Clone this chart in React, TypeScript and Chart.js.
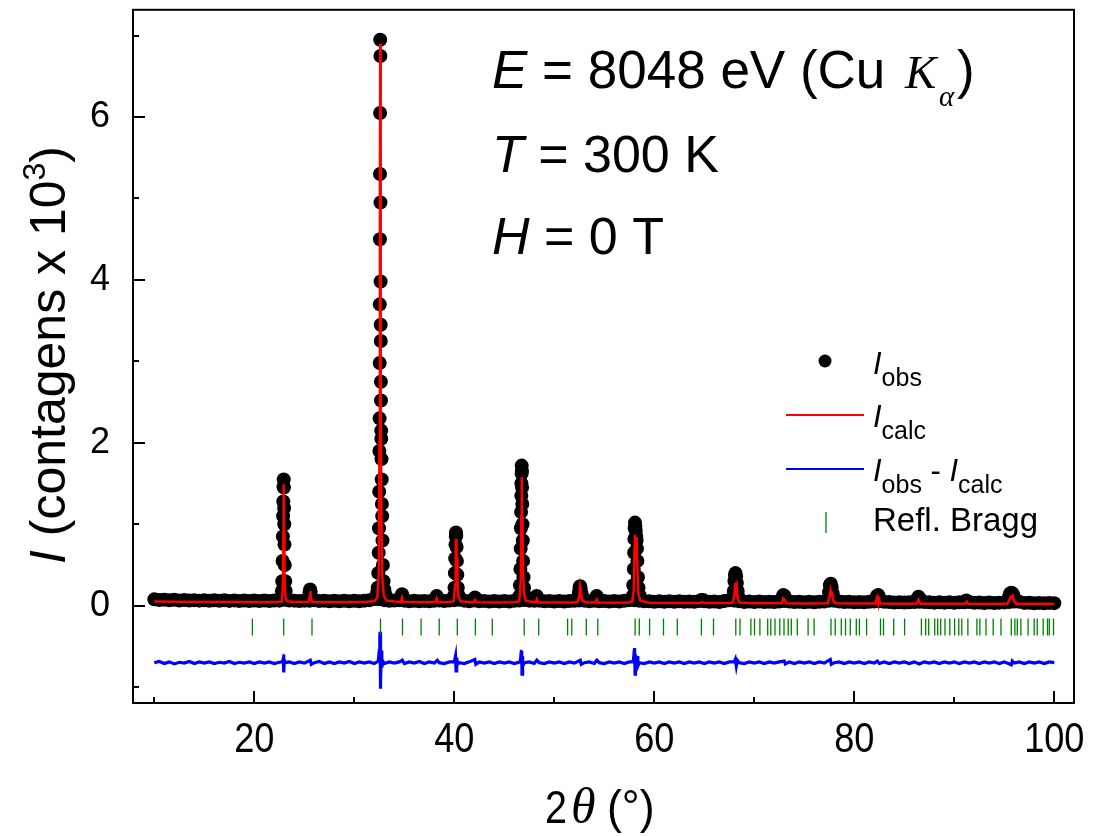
import React, { useEffect, useRef } from "react";
import { Chart, registerables } from "chart.js";

Chart.register(...registerables);

const SANS = '"Liberation Sans", Arial, sans-serif';
const SERIF = '"Liberation Serif", "Times New Roman", serif';

// axis ranges and ticks
const X_MIN = 7.87;
const X_MAX = 101.97;
const Y_MIN = -1.195;
const Y_MAX = 7.317;
const X_TICKS = [20, 40, 60, 80, 100];
const X_MINOR = [10, 30, 50, 70, 90];
const Y_TICKS = [0, 2, 4, 6];
const Y_MINOR = [-1, 1, 3, 5, 7];

// observed intensity: background points
const OBS_BG_X = [
  10, 10.5, 11, 11.5, 12, 12.5, 13, 13.5, 14, 14.5,
  15, 15.5, 16, 16.5, 17, 17.5, 18, 18.5, 19, 19.5,
  20, 20.5, 21, 21.5, 22, 22.5, 23, 23.5, 24, 24.5,
  25, 25.5, 26, 26.5, 27, 27.5, 28, 28.5, 29, 29.5,
  30, 30.5, 31, 31.5, 32, 32.5, 33, 33.5, 34, 34.5,
  35, 35.5, 36, 36.5, 37, 37.5, 38, 38.5, 39, 39.5,
  40, 40.5, 41, 41.5, 42, 42.5, 43, 43.5, 44, 44.5,
  45, 45.5, 46, 46.5, 47, 47.5, 48, 48.5, 49, 49.5,
  50, 50.5, 51, 51.5, 52, 52.5, 53, 53.5, 54, 54.5,
  55, 55.5, 56, 56.5, 57, 57.5, 58, 58.5, 59, 59.5,
  60, 60.5, 61, 61.5, 62, 62.5, 63, 63.5, 64, 64.5,
  65, 65.5, 66, 66.5, 67, 67.5, 68, 68.5, 69, 69.5,
  70, 70.5, 71, 71.5, 72, 72.5, 73, 73.5, 74, 74.5,
  75, 75.5, 76, 76.5, 77, 77.5, 78, 78.5, 79, 79.5,
  80, 80.5, 81, 81.5, 82, 82.5, 83, 83.5, 84, 84.5,
  85, 85.5, 86, 86.5, 87, 87.5, 88, 88.5, 89, 89.5,
  90, 90.5, 91, 91.5, 92, 92.5, 93, 93.5, 94, 94.5,
  95, 95.5, 96, 96.5, 97, 97.5, 98, 98.5, 99, 99.5,
  100,
];
const OBS_BG_Y = [
  0.078, 0.070, 0.074, 0.066, 0.072, 0.064, 0.070, 0.063, 0.068, 0.062,
  0.067, 0.061, 0.066, 0.060, 0.066, 0.059, 0.065, 0.058, 0.064, 0.058,
  0.064, 0.057, 0.063, 0.056, 0.064, 0.062, 0.072, 0.064, 0.062, 0.056,
  0.062, 0.060, 0.066, 0.058, 0.062, 0.055, 0.061, 0.054, 0.060, 0.055,
  0.060, 0.054, 0.062, 0.066, 0.082, 0.078, 0.068, 0.060, 0.063, 0.066,
  0.062, 0.054, 0.060, 0.053, 0.059, 0.053, 0.060, 0.064, 0.057, 0.063,
  0.068, 0.072, 0.062, 0.054, 0.064, 0.055, 0.059, 0.052, 0.058, 0.052,
  0.058, 0.052, 0.060, 0.064, 0.070, 0.062, 0.060, 0.062, 0.054, 0.057,
  0.051, 0.057, 0.051, 0.058, 0.060, 0.064, 0.062, 0.054, 0.060, 0.053,
  0.056, 0.050, 0.056, 0.052, 0.060, 0.068, 0.067, 0.060, 0.053, 0.055,
  0.049, 0.054, 0.049, 0.053, 0.048, 0.053, 0.047, 0.052, 0.049, 0.057,
  0.054, 0.047, 0.051, 0.046, 0.057, 0.067, 0.062, 0.054, 0.046, 0.050,
  0.044, 0.050, 0.044, 0.048, 0.045, 0.052, 0.057, 0.052, 0.044, 0.048,
  0.042, 0.048, 0.042, 0.049, 0.052, 0.062, 0.060, 0.052, 0.044, 0.047,
  0.041, 0.045, 0.041, 0.047, 0.050, 0.054, 0.048, 0.045, 0.039, 0.043,
  0.039, 0.043, 0.044, 0.048, 0.046, 0.043, 0.037, 0.041, 0.037, 0.041,
  0.035, 0.041, 0.042, 0.044, 0.036, 0.039, 0.033, 0.039, 0.033, 0.037,
  0.038, 0.044, 0.052, 0.047, 0.034, 0.036, 0.030, 0.034, 0.030, 0.034,
  0.031,
];

// observed intensity: points on the reflections [2theta, I]
const OBS_PEAKS: [number, number][] = [
  [22.70, 0.10], [22.76, 0.18], [22.80, 0.30], [22.83, 0.55], [22.86, 0.85], [22.88, 1.10],
  [22.90, 1.28], [22.92, 1.46], [22.94, 1.55], [22.96, 1.45], [22.98, 1.20], [23.00, 1.00],
  [23.02, 0.75], [23.05, 0.50], [23.09, 0.30], [23.14, 0.18], [23.22, 0.10],
  [25.45, 0.10], [25.52, 0.16], [25.58, 0.20], [25.64, 0.17], [25.72, 0.10],
  [32.20, 0.12], [32.28, 0.16], [32.34, 0.22], [32.40, 0.40], [32.44, 0.65], [32.47, 0.95],
  [32.49, 1.40], [32.51, 1.90], [32.53, 2.30], [32.54, 2.98], [32.55, 3.70], [32.56, 4.50],
  [32.57, 5.30], [32.58, 6.05], [32.59, 6.95], [32.61, 6.75], [32.62, 4.95], [32.63, 3.98],
  [32.64, 3.45], [32.65, 3.25], [32.66, 2.75], [32.67, 2.52], [32.69, 2.15], [32.70, 2.05],
  [32.72, 1.80], [32.74, 1.55], [32.76, 1.25], [32.79, 1.10], [32.82, 0.80], [32.86, 0.50],
  [32.92, 0.30], [33.00, 0.20], [33.10, 0.14], [33.22, 0.10],
  [34.66, 0.10], [34.77, 0.14], [34.88, 0.10],
  [38.12, 0.09], [38.24, 0.12], [38.36, 0.09],
  [39.96, 0.12], [40.02, 0.22], [40.06, 0.40], [40.09, 0.58], [40.12, 0.75], [40.15, 0.85],
  [40.17, 0.90], [40.20, 0.86], [40.23, 0.72], [40.26, 0.55], [40.30, 0.38], [40.35, 0.22],
  [40.42, 0.13],
  [41.95, 0.08], [42.07, 0.10], [42.18, 0.08],
  [46.52, 0.12], [46.57, 0.25], [46.61, 0.45], [46.64, 0.70], [46.66, 0.95], [46.68, 1.15],
  [46.70, 1.35], [46.71, 1.50], [46.73, 1.62], [46.74, 1.72], [46.76, 1.65], [46.78, 1.45],
  [46.80, 1.25], [46.82, 1.00], [46.85, 0.80], [46.88, 0.55], [46.92, 0.35], [46.97, 0.22],
  [47.05, 0.13],
  [48.12, 0.09], [48.24, 0.12], [48.36, 0.09],
  [52.36, 0.10], [52.45, 0.16], [52.52, 0.22], [52.58, 0.24], [52.64, 0.21], [52.72, 0.15],
  [52.82, 0.10],
  [54.12, 0.09], [54.24, 0.12], [54.36, 0.09],
  [57.84, 0.12], [57.90, 0.25], [57.95, 0.45], [57.98, 0.65], [58.01, 0.82], [58.04, 0.95],
  [58.07, 1.02], [58.11, 0.98], [58.15, 0.92], [58.19, 0.85], [58.23, 0.80], [58.27, 0.70],
  [58.31, 0.55], [58.36, 0.35], [58.42, 0.22], [58.52, 0.13],
  [64.72, 0.07], [64.88, 0.07],
  [67.86, 0.10], [67.95, 0.18], [68.02, 0.30], [68.07, 0.37], [68.12, 0.40], [68.18, 0.36],
  [68.26, 0.28], [68.34, 0.18], [68.45, 0.10],
  [72.78, 0.09], [72.90, 0.13], [73.02, 0.12], [73.14, 0.08],
  [77.36, 0.09], [77.47, 0.17], [77.56, 0.25], [77.65, 0.27], [77.74, 0.23], [77.84, 0.15],
  [77.95, 0.09],
  [82.12, 0.08], [82.26, 0.12], [82.40, 0.13], [82.54, 0.08],
  [86.28, 0.08], [86.42, 0.11], [86.58, 0.08],
  [91.20, 0.065],
  [95.35, 0.07], [95.47, 0.11], [95.58, 0.15], [95.70, 0.16], [95.82, 0.15], [95.94, 0.12],
  [96.06, 0.07],
];

// calculated profile [2theta, I]
const CALC: [number, number][] = [
  [10, 0.05], [12, 0.048], [14, 0.046], [16, 0.045], [18, 0.044], [20, 0.043], [22, 0.043],
  [22.75, 0.05], [22.86, 0.25], [22.90, 0.9], [22.935, 1.49], [22.97, 0.9], [23.02, 0.35],
  [23.1, 0.12], [23.25, 0.055], [24, 0.045], [25.45, 0.045], [25.57, 0.12], [25.61, 0.18],
  [25.66, 0.10], [25.8, 0.045], [27, 0.042], [29, 0.042], [31, 0.045], [32.0, 0.055],
  [32.3, 0.1], [32.45, 0.4], [32.52, 2.0], [32.56, 5.0], [32.59, 6.9], [32.62, 5.0],
  [32.66, 2.5], [32.72, 1.0], [32.8, 0.35], [32.95, 0.12], [33.2, 0.065], [34, 0.05],
  [34.65, 0.045], [34.77, 0.10], [34.9, 0.045], [36, 0.042], [38.1, 0.042], [38.24, 0.09],
  [38.38, 0.042], [39.5, 0.045], [39.95, 0.055], [40.08, 0.25], [40.14, 0.7], [40.17, 0.82],
  [40.2, 0.6], [40.25, 0.55], [40.28, 0.6], [40.32, 0.3], [40.4, 0.12], [40.6, 0.055],
  [41.5, 0.042], [41.95, 0.042], [42.07, 0.07], [42.2, 0.042], [44, 0.04], [46.0, 0.042],
  [46.5, 0.055], [46.64, 0.3], [46.7, 1.1], [46.745, 1.58], [46.78, 1.1], [46.82, 0.9],
  [46.84, 0.95], [46.88, 0.45], [46.97, 0.15], [47.15, 0.06], [48.1, 0.04], [48.24, 0.08],
  [48.38, 0.04], [50, 0.038], [52.0, 0.04], [52.35, 0.05], [52.5, 0.12], [52.58, 0.23],
  [52.66, 0.16], [52.8, 0.06], [53.2, 0.04], [54.1, 0.038], [54.24, 0.075], [54.4, 0.038],
  [56, 0.036], [57.5, 0.04], [57.8, 0.055], [57.95, 0.2], [58.02, 0.7], [58.06, 0.87],
  [58.12, 0.55], [58.18, 0.6], [58.24, 0.84], [58.3, 0.5], [58.4, 0.15], [58.6, 0.06],
  [59.5, 0.036], [62, 0.034], [64.65, 0.033], [64.8, 0.045], [64.95, 0.033], [67.5, 0.032],
  [67.85, 0.04], [68.0, 0.12], [68.1, 0.28], [68.16, 0.2], [68.24, 0.24], [68.32, 0.1],
  [68.5, 0.04], [70, 0.03], [72.75, 0.03], [72.9, 0.09], [73.05, 0.07], [73.2, 0.03],
  [75, 0.028], [77.35, 0.03], [77.55, 0.12], [77.63, 0.19], [77.72, 0.14], [77.8, 0.15],
  [77.9, 0.06], [78.1, 0.03], [80, 0.027], [82.1, 0.027], [82.28, 0.1], [82.35, 0.06],
  [82.45, 0.09], [82.6, 0.027], [84, 0.025], [86.25, 0.025], [86.42, 0.07], [86.6, 0.025],
  [89, 0.023], [91.1, 0.023], [91.25, 0.05], [91.4, 0.023], [93, 0.022], [95.3, 0.022],
  [95.5, 0.07], [95.65, 0.11], [95.75, 0.10], [95.85, 0.12], [96.0, 0.05], [96.2, 0.022],
  [98, 0.02], [100, 0.02],
];

// difference curve (offset) [2theta, I]
const DIFF: [number, number][] = [
  [10, -0.70], [10.5, -0.685], [11, -0.71], [11.5, -0.69], [12, -0.715], [12.5, -0.695],
  [13, -0.705], [13.5, -0.685], [14, -0.71], [14.5, -0.69], [15, -0.705], [15.5, -0.69],
  [16, -0.71], [16.5, -0.695], [17, -0.705], [17.5, -0.685], [18, -0.71], [18.5, -0.695],
  [19, -0.705], [19.5, -0.69], [20, -0.71], [20.5, -0.69], [21, -0.705], [21.5, -0.69],
  [22, -0.71], [22.5, -0.695], [22.85, -0.69], [22.9, -0.64], [22.93, -0.60], [22.96, -0.82],
  [23.0, -0.67], [23.1, -0.70], [23.5, -0.69], [24, -0.71], [24.5, -0.69], [25, -0.705],
  [25.6, -0.67], [25.7, -0.72], [26, -0.70], [26.5, -0.685], [27, -0.71], [27.5, -0.69],
  [28, -0.71], [28.5, -0.69], [29, -0.705], [29.5, -0.685], [30, -0.71], [30.5, -0.69],
  [31, -0.705], [31.5, -0.69], [32, -0.71], [32.4, -0.68], [32.5, -0.55], [32.55, -0.38],
  [32.58, -0.32], [32.6, -0.65], [32.62, -1.02], [32.65, -0.92], [32.7, -0.55], [32.75, -0.76],
  [32.85, -0.68], [33, -0.71], [33.5, -0.69], [34, -0.705], [34.5, -0.69], [34.8, -0.67],
  [35, -0.71], [35.5, -0.69], [36, -0.705], [36.5, -0.685], [37, -0.71], [37.5, -0.69],
  [38, -0.705], [38.3, -0.67], [38.5, -0.70], [39, -0.71], [39.5, -0.69], [40, -0.69],
  [40.12, -0.62], [40.18, -0.80], [40.24, -0.64], [40.32, -0.72], [40.5, -0.70], [41, -0.71],
  [41.5, -0.69], [42.05, -0.66], [42.15, -0.72], [42.5, -0.69], [43, -0.705], [43.5, -0.69],
  [44, -0.71], [44.5, -0.69], [45, -0.705], [45.5, -0.69], [46, -0.71], [46.6, -0.69],
  [46.7, -0.56], [46.74, -0.55], [46.77, -0.84], [46.81, -0.62], [46.86, -0.74], [47, -0.70],
  [47.5, -0.69], [48, -0.71], [48.25, -0.67], [48.5, -0.70], [49, -0.71], [49.5, -0.69],
  [50, -0.705], [50.5, -0.69], [51, -0.71], [51.5, -0.69], [52, -0.705], [52.6, -0.67],
  [52.7, -0.72], [53, -0.70], [53.5, -0.69], [54, -0.71], [54.25, -0.67], [54.5, -0.70],
  [55, -0.71], [55.5, -0.69], [56, -0.705], [56.5, -0.69], [57, -0.71], [57.5, -0.69],
  [57.9, -0.69], [58.0, -0.55], [58.03, -0.52], [58.08, -0.84], [58.12, -0.60], [58.2, -0.78],
  [58.28, -0.62], [58.36, -0.74], [58.5, -0.70], [59, -0.71], [59.5, -0.69], [60, -0.705],
  [60.5, -0.69], [61, -0.71], [61.5, -0.69], [62, -0.705], [62.5, -0.69], [63, -0.71],
  [63.5, -0.69], [64, -0.705], [64.5, -0.69], [65, -0.71], [65.5, -0.69], [66, -0.705],
  [66.5, -0.69], [67, -0.71], [67.5, -0.69], [68.0, -0.69], [68.1, -0.66], [68.2, -0.74],
  [68.3, -0.67], [68.5, -0.70], [69, -0.71], [69.5, -0.69], [70, -0.705], [70.5, -0.69],
  [71, -0.71], [71.5, -0.69], [72, -0.705], [72.5, -0.69], [73, -0.68], [73.1, -0.715],
  [73.5, -0.69], [74, -0.71], [74.5, -0.69], [75, -0.705], [75.5, -0.69], [76, -0.71],
  [76.5, -0.69], [77, -0.705], [77.6, -0.66], [77.7, -0.72], [78, -0.70], [78.5, -0.69],
  [79, -0.71], [79.5, -0.69], [80, -0.705], [80.5, -0.69], [81, -0.71], [81.5, -0.69],
  [82, -0.705], [82.3, -0.68], [82.5, -0.71], [83, -0.69], [83.5, -0.71], [84, -0.69],
  [84.5, -0.705], [85, -0.69], [85.5, -0.71], [86, -0.69], [86.5, -0.715], [87, -0.69],
  [87.5, -0.705], [88, -0.69], [88.5, -0.71], [89, -0.69], [89.5, -0.705], [90, -0.69],
  [90.5, -0.71], [91, -0.69], [91.5, -0.705], [92, -0.69], [92.5, -0.71], [93, -0.69],
  [93.5, -0.705], [94, -0.69], [94.5, -0.71], [95, -0.69], [95.7, -0.725], [95.8, -0.68],
  [96, -0.705], [96.5, -0.69], [97, -0.71], [97.5, -0.69], [98, -0.705], [98.5, -0.69],
  [99, -0.71], [99.5, -0.69], [100, -0.70],
];

// Bragg reflection positions (2theta) and the level they are drawn at
const BRAGG_LEVEL = -0.262;
const BRAGG_POS = [
  19.81, 22.94, 25.77, 32.62, 34.82, 36.68, 38.49, 40.30, 42.11, 43.80,
  46.99, 48.44, 51.33, 51.75, 53.20, 54.35, 58.08, 58.50, 59.53, 60.92,
  62.30, 64.71, 65.92, 68.15, 68.57, 69.66, 70.02, 70.56, 71.34, 71.65,
  72.07, 72.55, 72.97, 73.39, 73.70, 74.30, 75.38, 75.98, 77.67, 78.09,
  78.70, 79.12, 79.60, 80.20, 80.51, 81.23, 82.62, 82.92, 83.94, 85.03,
  86.71, 87.14, 87.44, 88.04, 88.34, 88.64, 89.07, 89.55, 90.03, 90.45,
  90.75, 91.36, 92.26, 92.56, 93.17, 93.89, 94.67, 95.70, 96.06, 96.30,
  96.66, 97.38, 97.99, 98.29, 98.89, 99.32, 99.50, 99.92,
];

type Part = { t: string; font: string; dy?: number; x?: number; sx?: number };

function drawParts(ctx: CanvasRenderingContext2D, x: number, y: number, parts: Part[], align: "left" | "center") {
  let w = 0;
  for (const p of parts) {
    ctx.font = p.font;
    w += ctx.measureText(p.t).width * (p.sx || 1);
  }
  let cx = align === "center" ? x - w / 2 : x;
  for (const p of parts) {
    ctx.font = p.font;
    if (p.x !== undefined) cx = p.x;
    const sx = p.sx || 1;
    ctx.save();
    ctx.translate(cx, y + (p.dy || 0));
    ctx.scale(sx, 1);
    ctx.fillText(p.t, 0, 0);
    ctx.restore();
    cx += ctx.measureText(p.t).width * sx;
  }
}

const decorPlugin = {
  id: "decor",
  afterDraw(chart: any) {
    const { ctx, chartArea: a, scales } = chart;
    const xs = scales.x;
    const ys = scales.y;
    ctx.save();
    ctx.strokeStyle = "#000";
    ctx.lineWidth = 2;
    ctx.strokeRect(a.left, a.top, a.right - a.left, a.bottom - a.top);
    ctx.beginPath();
    for (const v of X_TICKS) {
      const p = Math.round(xs.getPixelForValue(v));
      ctx.moveTo(p, a.bottom);
      ctx.lineTo(p, a.bottom - 12);
    }
    for (const v of X_MINOR) {
      const p = Math.round(xs.getPixelForValue(v));
      ctx.moveTo(p, a.bottom);
      ctx.lineTo(p, a.bottom - 6);
    }
    for (const v of Y_TICKS) {
      const p = Math.round(ys.getPixelForValue(v));
      ctx.moveTo(a.left, p);
      ctx.lineTo(a.left + 12, p);
    }
    for (const v of Y_MINOR) {
      const p = Math.round(ys.getPixelForValue(v));
      ctx.moveTo(a.left, p);
      ctx.lineTo(a.left + 6, p);
    }
    ctx.stroke();

    ctx.fillStyle = "#000";
    ctx.textBaseline = "alphabetic";
    ctx.textAlign = "left";

    // x tick labels (condensed face)
    for (const v of X_TICKS) {
      const p = xs.getPixelForValue(v);
      ctx.save();
      ctx.translate(p, 752);
      ctx.scale(0.86, 1);
      ctx.font = `42px ${SANS}`;
      ctx.textAlign = "center";
      ctx.fillText(String(v), 0, 0);
      ctx.restore();
    }

    // annotations
    const big = `52px ${SANS}`;
    const bigI = `italic 52px ${SANS}`;
    drawParts(ctx, 492, 88, [
      { t: "E", font: `italic 53px ${SANS}` },
      { t: " = 8048 eV (Cu", font: `53px ${SANS}` },
      { t: "K", font: `italic 47px ${SERIF}`, x: 905 },
      { t: "\u03b1", font: `italic 29px ${SERIF}`, dy: 18, x: 939 },
      { t: ")", font: `53px ${SANS}`, x: 957 },
    ], "left");
    drawParts(ctx, 492, 172, [
      { t: "T", font: bigI },
      { t: " = 300 K", font: big },
    ], "left");
    drawParts(ctx, 492, 254, [
      { t: "H", font: bigI },
      { t: " = 0 T", font: big },
    ], "left");

    // legend
    const lI = `italic 31px ${SANS}`;
    const lN = `31px ${SANS}`;
    const lS = `25px ${SANS}`;
    ctx.beginPath();
    ctx.arc(825, 361, 6.5, 0, Math.PI * 2);
    ctx.fill();
    drawParts(ctx, 873, 374, [{ t: "I", font: lI }, { t: "obs", font: lS, dy: 12 }], "left");

    ctx.lineWidth = 2;
    ctx.strokeStyle = "#ff0000";
    ctx.beginPath();
    ctx.moveTo(786, 415);
    ctx.lineTo(864, 415);
    ctx.stroke();
    drawParts(ctx, 873, 427, [{ t: "I", font: lI }, { t: "calc", font: lS, dy: 12 }], "left");

    ctx.strokeStyle = "#0000ff";
    ctx.beginPath();
    ctx.moveTo(786, 469);
    ctx.lineTo(864, 469);
    ctx.stroke();
    drawParts(ctx, 873, 481, [
      { t: "I", font: lI },
      { t: "obs", font: lS, dy: 12 },
      { t: " - ", font: lN },
      { t: "I", font: lI },
      { t: "calc", font: lS, dy: 12 },
    ], "left");

    ctx.strokeStyle = "#008000";
    ctx.lineWidth = 1.3;
    ctx.beginPath();
    ctx.moveTo(826, 512);
    ctx.lineTo(826, 533);
    ctx.stroke();
    drawParts(ctx, 873, 531, [{ t: "Refl. Bragg", font: `33px ${SANS}` }], "left");

    // x axis title
    drawParts(ctx, 545, 823, [
      { t: "2", font: `46px ${SANS}`, sx: 0.86 },
      { t: "\u03b8", font: `italic 50px ${SERIF}`, x: 571 },
      { t: "(\u00b0)", font: `47px ${SANS}`, x: 607, sx: 0.95 },
    ], "left");

    // y axis title
    ctx.save();
    ctx.translate(65, 355);
    ctx.rotate(-Math.PI / 2);
    drawParts(ctx, 0, 0, [
      { t: "I", font: `italic 50px ${SANS}` },
      { t: " (contagens x 10", font: `50px ${SANS}` },
      { t: "3", font: `32px ${SANS}`, dy: -20 },
      { t: ")", font: `50px ${SANS}` },
    ], "center");
    ctx.restore();

    ctx.restore();
  },
};

export default function App() {
  const ref = useRef<HTMLCanvasElement | null>(null);
  useEffect(() => {
    const canvas = ref.current;
    if (!canvas) return;
    const obs = OBS_BG_X.map((x, i) => ({ x, y: OBS_BG_Y[i] })).concat(
      OBS_PEAKS.map(([x, y]) => ({ x, y }))
    );
    const chart = new Chart(canvas, {
      type: "scatter",
      data: {
        datasets: [
          {
            label: "Icalc",
            data: CALC.map(([x, y]) => ({ x, y })),
            showLine: true,
            borderColor: "#ff0000",
            backgroundColor: "#ff0000",
            borderWidth: 2.5,
            pointRadius: 0,
            order: 0,
          },
          {
            label: "Refl. Bragg",
            data: BRAGG_POS.map((x) => ({ x, y: BRAGG_LEVEL })),
            pointStyle: "line",
            rotation: 90,
            pointRadius: 8.5,
            borderColor: "#008000",
            borderWidth: 1.3,
            showLine: false,
            order: 1,
          },
          {
            label: "Iobs - Icalc",
            data: DIFF.map(([x, y]) => ({ x, y })),
            showLine: true,
            borderColor: "#0000ff",
            backgroundColor: "#0000ff",
            borderWidth: 3.2,
            pointRadius: 0,
            order: 2,
          },
          {
            label: "Iobs",
            data: obs,
            pointRadius: 7,
            backgroundColor: "#000000",
            borderWidth: 0,
            showLine: false,
            order: 3,
          },
        ] as any,
      },
      options: {
        animation: false,
        responsive: false,
        events: [],
        layout: { padding: { left: 0, right: 20, top: 5, bottom: 0 } },
        plugins: { legend: { display: false }, tooltip: { enabled: false } },
        scales: {
          x: {
            type: "linear",
            min: X_MIN,
            max: X_MAX,
            grid: { display: false },
            border: { display: false },
            ticks: { display: false },
            afterBuildTicks: (s: any) => {
              s.ticks = X_TICKS.map((v) => ({ value: v }));
            },
            afterFit: (s: any) => {
              s.height = 133;
              s.paddingLeft = 0;
              s.paddingRight = 0;
            },
          },
          y: {
            type: "linear",
            min: Y_MIN,
            max: Y_MAX,
            grid: { display: false },
            border: { display: false },
            ticks: {
              autoSkip: false,
              color: "#000",
              padding: 15,
              font: { family: SANS, size: 36 },
            },
            afterBuildTicks: (s: any) => {
              s.ticks = Y_TICKS.map((v) => ({ value: v }));
            },
            afterFit: (s: any) => {
              s.width = 133;
              s.paddingTop = 0;
              s.paddingBottom = 0;
            },
          },
        },
      } as any,
      plugins: [decorPlugin],
    });
    return () => chart.destroy();
  }, []);
  return (
    <div style={{ position: "absolute", left: 0, top: 0, width: 1094, height: 836, background: "#fff" }}>
      <canvas ref={ref} width={1094} height={836} style={{ display: "block" }} />
    </div>
  );
}
